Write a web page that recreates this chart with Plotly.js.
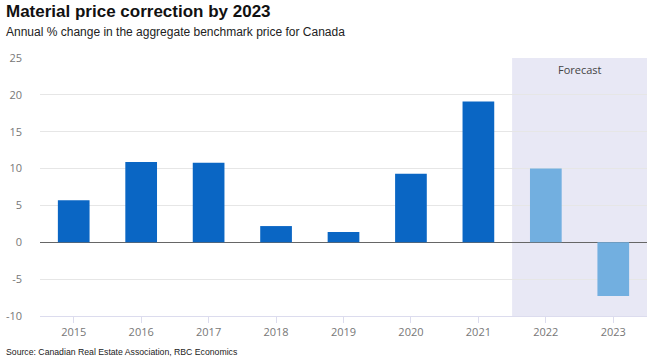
<!DOCTYPE html>
<html>
<head>
<meta charset="utf-8">
<script src="https://cdn.plot.ly/plotly-3.0.1.min.js"></script>
<style>
html,body{margin:0;padding:0;background:#fff;}
#chart{width:660px;height:359px;}
</style>
</head>
<body>
<div id="chart"></div>
<script>
const years = ["2015","2016","2017","2018","2019","2020","2021","2022","2023"];
const changePct = [5.7, 10.9, 10.8, 2.2, 1.4, 9.3, 19.1, 10.0, -7.3];
const forecastYears = ["2022","2023"];
const yTicks = [-10, -5, 0, 5, 10, 15, 20, 25];

const actualColor = "#0a66c4";
const forecastColor = "#72afe0";
const colors = years.map(y => forecastYears.includes(y) ? forecastColor : actualColor);

const firstF = years.indexOf(forecastYears[0]);
const lastF = years.indexOf(forecastYears[forecastYears.length - 1]);

const trace = {
  type: "bar",
  x: years,
  y: changePct,
  marker: {color: colors, line: {width: 0}},
  hoverinfo: "x+y"
};

const layout = {
  width: 660,
  height: 359,
  margin: {l: 40, r: 13, t: 58, b: 43},
  paper_bgcolor: "#ffffff",
  plot_bgcolor: "#ffffff",
  showlegend: false,
  bargap: 0.53,
  font: {family: "Open Sans, sans-serif", color: "#777"},
  xaxis: {
    type: "category",
    tickfont: {size: 11, color: "#777", family: "Open Sans, sans-serif"},
    ticks: "outside",
    ticklen: 6,
    tickcolor: "#dcdcee",
    showline: true,
    linecolor: "#dcdcee",
    linewidth: 1,
    showgrid: false,
    zeroline: false,
    range: [-0.5, years.length - 0.5]
  },
  yaxis: {
    range: [-10, 25],
    tickvals: yTicks,
    ticktext: yTicks.map(String),
    tickfont: {size: 11, color: "#777", family: "Open Sans, sans-serif"},
    showgrid: true,
    gridcolor: "#e6e6e6",
    gridwidth: 1,
    zeroline: true,
    zerolinecolor: "#666",
    zerolinewidth: 1.5,
    ticks: "",
    ticklabelstandoff: 17,
    showline: false
  },
  shapes: [{
    type: "rect",
    xref: "x", yref: "paper",
    x0: firstF - 0.5, x1: lastF + 0.5,
    y0: 0, y1: 1,
    fillcolor: "#e8e8f5",
    line: {width: 0},
    layer: "below"
  }],
  annotations: [
    {
      text: "Forecast",
      xref: "x", yref: "paper",
      x: (firstF + lastF) / 2, y: 1,
      yanchor: "top", yshift: -2,
      showarrow: false,
      font: {size: 11, color: "#444", family: "Open Sans, sans-serif"}
    },
    {
      text: "<b>Material price correction by 2023</b>",
      xref: "paper", yref: "paper",
      x: -0.06, y: 1,
      xanchor: "left", yanchor: "bottom",
      yshift: 35,
      showarrow: false,
      font: {size: 17, color: "#111", family: "Liberation Sans, Arial, sans-serif"}
    },
    {
      text: "Annual % change in the aggregate benchmark price for Canada",
      xref: "paper", yref: "paper",
      x: -0.06, y: 1,
      xanchor: "left", yanchor: "bottom",
      yshift: 17,
      showarrow: false,
      font: {size: 12, color: "#222", family: "Liberation Sans, Arial, sans-serif"}
    },
    {
      text: "Source: Canadian Real Estate Association, RBC Economics",
      xref: "paper", yref: "paper",
      x: -0.06, y: 0,
      xanchor: "left", yanchor: "top",
      yshift: -29,
      showarrow: false,
      font: {size: 8.7, color: "#222", family: "Liberation Sans, Arial, sans-serif"}
    }
  ]
};

Plotly.newPlot("chart", [trace], layout, {displayModeBar: false, staticPlot: true});
</script>
</body>
</html>
